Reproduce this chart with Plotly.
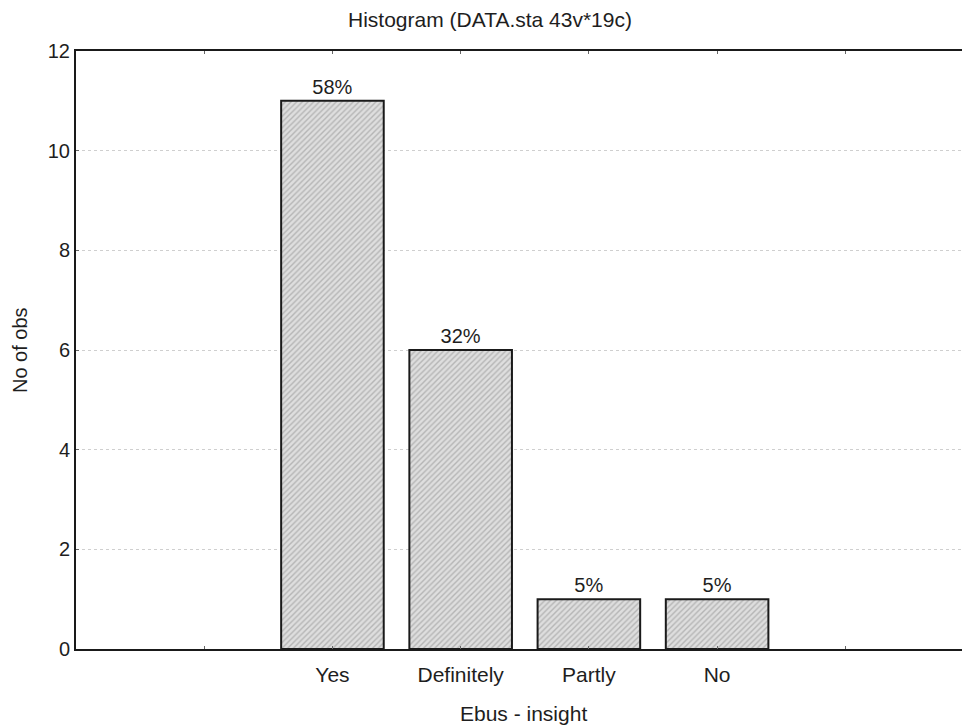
import plotly.graph_objects as go

categories = ["", "Yes", "Definitely", "Partly", "No", ""]
positions = [0, 1, 2, 3, 4, 5]
counts = [None, 11, 6, 1, 1, None]
pct_labels = ["", "58%", "32%", "5%", "5%", ""]
y_ticks = [0, 2, 4, 6, 8, 10, 12]

font = "Liberation Sans, Arial, sans-serif"
txt = "#1e1e1e"

W, H = 962, 727
L, T, B, R = 76, 51, 78, 0
PW, PH = W - L - R, H - T - B

fig = go.Figure()
fig.add_trace(go.Bar(
    x=positions, y=counts, width=0.8,
    text=pct_labels, textposition="outside", cliponaxis=False,
    textfont=dict(family=font, size=20, color=txt),
    marker=dict(color="#d6d6d6",
                line=dict(color="#1a1a1a", width=2),
                pattern=dict(shape="/", size=4, solidity=0.35,
                             fgcolor="#8c8c8c", bgcolor="#dedede")),
    showlegend=False,
    hoverinfo="skip",
))

fig.update_layout(
    width=W, height=H,
    margin=dict(l=L, r=R, t=T, b=B),
    paper_bgcolor="white", plot_bgcolor="white",
    font=dict(family=font, size=20, color=txt),
)

def px_x(x):
    return (x - L) / PW

def px_y(y):
    return 1 - (y - T) / PH

fig.add_annotation(text="Histogram (DATA.sta 43v*19c)", xref="paper", yref="paper",
                   x=px_x(490), y=px_y(20), showarrow=False,
                   xanchor="center", yanchor="middle", font=dict(size=21))
fig.add_annotation(text="Ebus - insight", xref="paper", yref="paper",
                   x=px_x(523), y=px_y(713), showarrow=False,
                   xanchor="center", yanchor="middle", font=dict(size=21))
fig.add_annotation(text="No of obs", xref="paper", yref="paper",
                   x=px_x(20), y=0.5, showarrow=False, textangle=-90,
                   xanchor="center", yanchor="middle", font=dict(size=20))

fig.update_xaxes(
    range=[-1, 5.91], tickmode="array", tickvals=positions, ticktext=categories,
    showline=True, linecolor="#1a1a1a", linewidth=2, mirror="ticks",
    ticks="inside", ticklen=3, tickcolor="#666", showgrid=False, zeroline=False,
    tickfont=dict(size=21), ticklabelstandoff=6, automargin=False,
)
fig.update_yaxes(
    range=[0, 12], tickmode="array", tickvals=y_ticks,
    showline=True, linecolor="#1a1a1a", linewidth=2, mirror=False,
    ticks="inside", ticklen=3, tickcolor="#666",
    showgrid=True, gridcolor="#cfcfcf", griddash="dot", gridwidth=1, zeroline=False,
    tickfont=dict(size=20), automargin=False,
)

fig.write_html("out.html", config={"displayModeBar": False},
               post_script="document.body.style.margin='0';document.body.style.overflow='hidden';")
